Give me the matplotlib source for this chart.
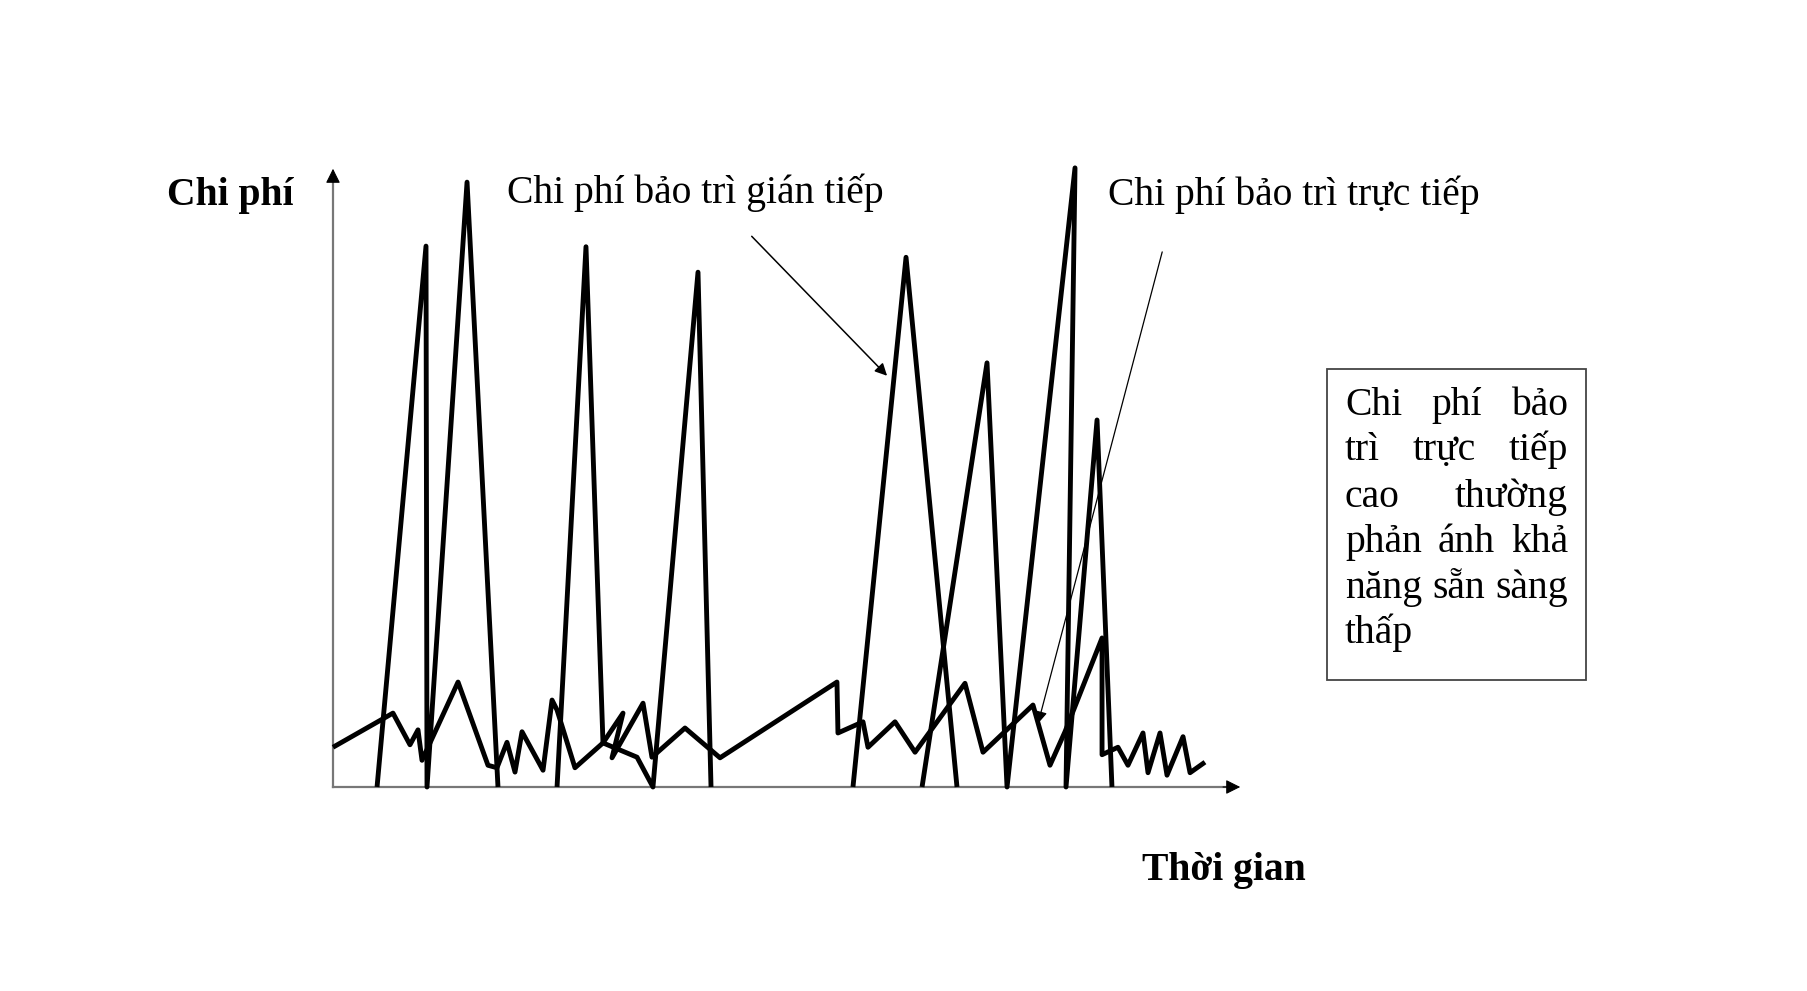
import numpy as np
import matplotlib
matplotlib.use("Agg")
import matplotlib.pyplot as plt

plt.rcParams['font.family'] = ['Liberation Serif', 'DejaVu Serif']

W, H = 1807, 991

# time (0-100) and cost (0-100); NaN breaks the line into pieces
indirect_t = [4.84, 10.22, 10.33, 14.73, 18.13, np.nan,
              24.62, 27.80, 29.67, 33.41, 35.16, 40.11, 41.54, np.nan,
              57.14, 62.97, 68.57, np.nan,
              64.73, 71.87, 74.07, 81.54, 80.55, 83.96, 85.60]
indirect_c = [0, 87.1, 0, 97.4, 0, np.nan,
              0, 87.0, 7.1, 4.8, 0, 82.9, 0, np.nan,
              0, 85.3, 0, np.nan,
              0, 68.3, 0, 99.7, 0, 59.1, 0]

direct_t = [0, 6.59, 8.46, 9.34, 9.78, 13.74, 17.03, 18.02, 19.12, 20.00,
            20.77, 23.08, 24.07, 24.62, 26.59, 29.67, 31.87, 30.66, 34.07, 35.05,
            38.68, 42.53, 55.38, 55.49, 58.24, 58.79, 61.76, 63.96, 69.45, 71.43,
            76.92, 78.79, 80.44, 84.51, 84.51, 86.26, 87.36, 89.01, 89.56, 90.88,
            91.65, 93.41, 94.18, 95.82]
direct_c = [6.4, 11.9, 6.8, 9.2, 4.3, 16.9, 3.5, 3.1, 7.2, 2.4,
            8.9, 2.7, 14.0, 12.4, 3.1, 7.1, 11.9, 4.7, 13.5, 4.8,
            9.5, 4.7, 16.9, 8.7, 10.5, 6.4, 10.5, 5.6, 16.7, 5.6,
            13.2, 3.5, 8.9, 24.0, 5.2, 6.4, 3.5, 8.7, 2.3, 8.7,
            1.9, 8.1, 2.3, 4.0]

y_label = "Chi phí"
x_label = "Thời gian"
indirect_label = "Chi phí bảo trì gián tiếp"
direct_label = "Chi phí bảo trì trực tiếp"
box_lines = [["Chi", "phí", "bảo"],
             ["trì", "trực", "tiếp"],
             ["cao", "thường"],
             ["phản", "ánh", "khả"],
             ["năng", "sẵn", "sàng"],
             ["thấp"]]

fig = plt.figure(figsize=(W / 100, H / 100), dpi=100)
ax = fig.add_axes([333 / W, 1 - 787 / H, 910 / W, 621 / H])
ax.set_xlim(0, 100)
ax.set_ylim(0, 100)
ax.axis('off')

# axes with arrow heads
ax.plot([0, 0], [0, 99], color='#777777', lw=1.6, clip_on=False)
ax.plot([0, 99], [0, 0], color='#777777', lw=1.6, clip_on=False)
ax.annotate('', xy=(0, 100), xytext=(0, 97),
            arrowprops=dict(arrowstyle='-|>', color='black', lw=0.8, mutation_scale=22),
            annotation_clip=False)
ax.annotate('', xy=(100, 0), xytext=(97.5, 0),
            arrowprops=dict(arrowstyle='-|>', color='black', lw=0.8, mutation_scale=22),
            annotation_clip=False)

ax.plot(indirect_t, indirect_c, color='black', lw=3.5, clip_on=False,
        solid_joinstyle='round', solid_capstyle='butt')
ax.plot(direct_t, direct_c, color='black', lw=3.5, clip_on=False,
        solid_joinstyle='round', solid_capstyle='butt')

# pointer arrows
ax.annotate('', xy=(61.1, 65.9), xytext=(45.8, 89.0),
            arrowprops=dict(arrowstyle='-|>', color='black', lw=1.1, mutation_scale=18),
            annotation_clip=False)
ax.annotate('', xy=(77.4, 9.8), xytext=(91.2, 86.6),
            arrowprops=dict(arrowstyle='-|>', color='black', lw=0.9, mutation_scale=18),
            annotation_clip=False)


def px(x, y):
    return x / W, 1 - y / H


fs = 28.5
fig.text(*px(167, 205), y_label, fontsize=fs, fontweight='bold', va='baseline')
fig.text(*px(1142, 880), x_label, fontsize=fs, fontweight='bold', va='baseline')
fig.text(*px(507, 203), indirect_label, fontsize=fs, va='baseline')
fig.text(*px(1108, 205), direct_label, fontsize=fs, va='baseline')

# text box
box = plt.Rectangle(px(1327, 680), 259 / W, 311 / H, transform=fig.transFigure,
                    fill=False, edgecolor='#444444', lw=1.3)
fig.add_artist(box)

left, right = 1345, 1568
baselines = [415, 460, 507, 552, 598, 643]
fig.canvas.draw()
renderer = fig.canvas.get_renderer()
for words, yb in zip(box_lines, baselines):
    texts = [fig.text(*px(left, yb), w, fontsize=fs, va='baseline') for w in words]
    widths = [t.get_window_extent(renderer).width for t in texts]
    if len(words) == 1:
        continue
    gap = (right - left - sum(widths)) / (len(words) - 1)
    x = left
    for t, wd in zip(texts, widths):
        t.set_x(x / W)
        x += wd + gap

fig.savefig('out.png', dpi=100, facecolor='white')
